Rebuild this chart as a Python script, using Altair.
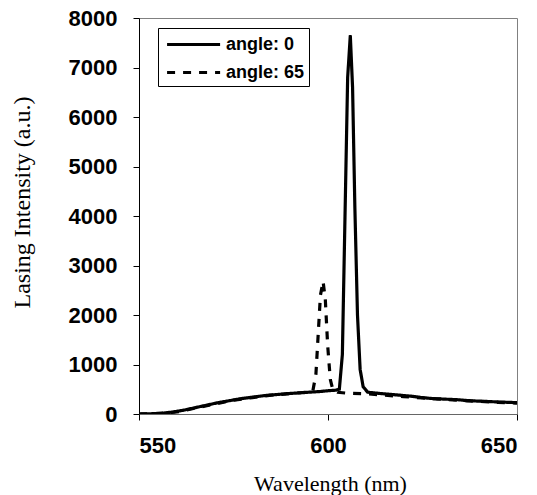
import altair as alt
import pandas as pd

series_names = ["angle: 0", "angle: 65"]

wl_a0 = [550, 553, 556, 559, 562, 565, 568, 571, 574, 577, 580, 583, 586, 589, 592, 595, 598, 600, 602, 603,
         603.8, 604.5, 605.2, 605.9, 606.5, 607.1, 607.8, 608.5, 609.3, 610.5, 613, 616, 619, 622, 625, 628,
         631, 634, 637, 640, 643, 646, 650]
int_a0 = [0, 5, 15, 40, 80, 130, 180, 230, 270, 310, 340, 370, 390, 410, 425, 440, 455, 470, 480, 500,
          1200, 4000, 6800, 7650, 6600, 4200, 2000, 900, 550, 440, 420, 400, 380, 360, 330, 310,
          300, 290, 270, 260, 250, 240, 230]

wl_a65 = [550, 555, 560, 565, 570, 575, 580, 585, 590, 594, 596, 596.8, 597.4, 598, 598.7, 599.3, 599.9,
          600.6, 601.3, 602.5, 605, 610, 615, 620, 625, 630, 635, 640, 645, 650]
int_a65 = [0, 10, 40, 120, 200, 280, 330, 380, 410, 440, 470, 800, 1600, 2400, 2680, 2300, 1400,
           700, 480, 440, 420, 410, 380, 350, 325, 300, 275, 255, 235, 220]

x_ticks = [550, 600, 650]
y_ticks = [0, 1000, 2000, 3000, 4000, 5000, 6000, 7000, 8000]

df = pd.concat([
    pd.DataFrame({"wl": wl_a0, "val": int_a0, "series": series_names[0]}),
    pd.DataFrame({"wl": wl_a65, "val": int_a65, "series": series_names[1]}),
], ignore_index=True)

chart = alt.Chart(df).mark_line(color="black", strokeWidth=3.2, clip=True).encode(
    x=alt.X("wl:Q",
            scale=alt.Scale(domain=[550, 650], nice=False, zero=False),
            axis=alt.Axis(values=x_ticks, format="d", title="Wavelength (nm)", domainColor="#666666",
                          labelPadding=15, titleX=191, titleY=69, titleBaseline="middle",
                          titleFontSize=22)),
    y=alt.Y("val:Q",
            scale=alt.Scale(domain=[0, 8000], nice=False),
            axis=alt.Axis(values=y_ticks, format="d", title="Lasing Intensity (a.u.)", domainColor="black",
                          labelPadding=16, titleX=-117, titleY=184, titleBaseline="middle",
                          titleAlign="center", titleFontSize=24)),
    strokeDash=alt.StrokeDash("series:N",
                              scale=alt.Scale(domain=series_names, range=[[1, 0], [8, 8]]),
                              legend=alt.Legend(title=None, orient="none", legendX=19, legendY=10,
                                                strokeColor="black", fillColor="white", padding=4,
                                                symbolType="M-0.7,0H4.3", symbolSize=450,
                                                symbolStrokeWidth=3, symbolStrokeColor="black",
                                                labelFont="Liberation Sans", labelFontWeight="bold",
                                                labelFontSize=18, labelColor="black", labelOffset=39,
                                                labelExpr="datum.label + '\u00a0\u00a0\u00a0'",
                                                rowPadding=6)),
).properties(
    width=378, height=396,
    background="white",
    autosize=alt.AutoSizeParams(type="none"),
    padding={"left": 139, "top": 18, "right": 20, "bottom": 81},
).configure_view(
    stroke="#808080", strokeWidth=1
).configure_axis(
    grid=False, labelFont="Liberation Sans", labelFontWeight="bold", labelFontSize=22,
    labelColor="black", tickColor="black", tickSize=6, titleFont="Liberation Serif",
    titleFontWeight="normal", titleColor="black", domainWidth=1
)

chart.save("out.html", embed_options={"renderer": "svg", "actions": False})
